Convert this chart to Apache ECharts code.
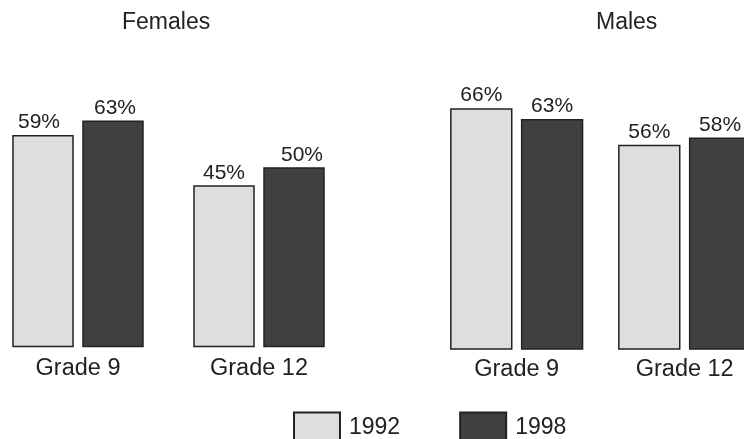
<!DOCTYPE html>
<html>
<head>
<meta charset="utf-8">
<script src="https://cdn.jsdelivr.net/npm/echarts@6/dist/echarts.min.js"></script>
<style>
  html, body { margin: 0; padding: 0; background: #fff; }
  #chart { width: 744px; height: 439px; }
</style>
</head>
<body>
<div id="chart"></div>
<script>
// Share of students (%) by grade, 1992 vs 1998, split by sex
var grades = ['Grade 9', 'Grade 12'];
var years = ['1992', '1998'];
var females1992 = [59, 45];
var females1998 = [63, 50];
var males1992 = [66, 56];
var males1998 = [63, 58];

var FONT = 'Liberation Sans, Arial, Helvetica, sans-serif';
var INK = '#222222';
var LIGHT = '#dedede';
var DARK = '#404040';

// small horizontal nudges for a couple of value labels
var femaleLabelShift = { '1992': [-4, 0], '1998': [2, 0] };

function barSeries(name, values, color, gridIdx, width, gap, shifts) {
  return {
    type: 'bar',
    name: name,
    xAxisIndex: gridIdx,
    yAxisIndex: gridIdx,
    barWidth: width,
    barGap: gap,
    data: values.map(function (v, i) {
      var item = { value: v };
      if (shifts && shifts[i]) item.label = { offset: shifts[i] };
      return item;
    }),
    itemStyle: { color: color, borderColor: INK, borderWidth: 1.5 },
    label: {
      show: true,
      position: 'top',
      distance: 2,
      formatter: '{c}%',
      fontFamily: FONT,
      fontSize: 21,
      color: INK
    },
    emphasis: { disabled: true },
    animation: false
  };
}

var catAxis = function (gridIdx, margin) {
  return {
    type: 'category',
    gridIndex: gridIdx,
    data: grades,
    axisLine: { show: false },
    axisTick: { show: false },
    axisLabel: { fontFamily: FONT, fontSize: 23.5, color: INK, margin: margin }
  };
};
var valAxis = function (gridIdx) {
  return {
    type: 'value',
    gridIndex: gridIdx,
    min: 0,
    max: 70,
    show: false,
    splitLine: { show: false }
  };
};

var titleStyle = { fontFamily: FONT, fontSize: 23, fontWeight: 'normal', color: INK };

var option = {
  backgroundColor: '#ffffff',
  animation: false,
  title: [
    { text: 'Females', left: 122, top: 11, padding: 0, textStyle: titleStyle },
    { text: 'Males', left: 596, top: 11, padding: 0, textStyle: titleStyle }
  ],
  legend: {
    data: years,
    left: 293,
    top: 411.5,
    padding: 0,
    icon: 'rect',
    itemWidth: 46,
    itemHeight: 30,
    itemGap: 59,
    selectedMode: false,
    textStyle: { fontFamily: FONT, fontSize: 23, color: INK, padding: [0, 0, 0, 4] }
  },
  grid: [
    { left: -12.5, width: 362, top: 95.3, bottom: 91.7, outerBoundsMode: 'none', containLabel: false },
    { left: 432.7, width: 336, top: 93.5, bottom: 89.3, outerBoundsMode: 'none', containLabel: false }
  ],
  xAxis: [catAxis(0, 9), catAxis(1, 8)],
  yAxis: [valAxis(0), valAxis(1)],
  series: [
    barSeries('1992', females1992, LIGHT, 0, 61.5, '13.8%', [femaleLabelShift['1992'], null]),
    barSeries('1998', females1998, DARK, 0, 61.5, '13.8%', [femaleLabelShift['1998'], [8, 0]]),
    barSeries('1992', males1992, LIGHT, 1, 62.4, '13.5%', null),
    barSeries('1998', males1998, DARK, 1, 62.4, '13.5%', null)
  ]
};

var chart = echarts.init(document.getElementById('chart'), null, { renderer: 'canvas' });
chart.setOption(option);
</script>
</body>
</html>
